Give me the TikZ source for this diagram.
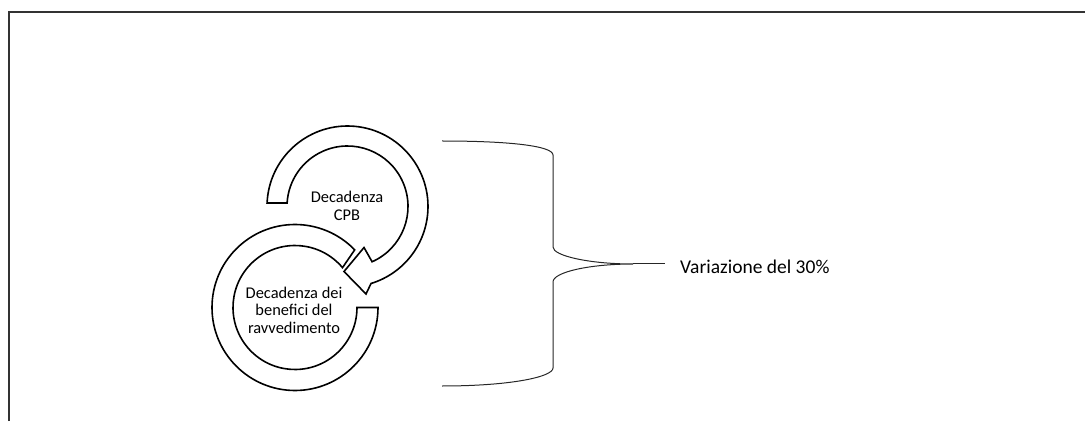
\documentclass[tikz,border=0pt]{standalone}
\usepackage{fontspec}
\setmainfont{Carlito}
\usetikzlibrary{calc}

\tikzset{
  frameline/.style={line width=1.6pt, black!80},
  ringshape/.style={draw=black, fill=white, line width=1.6pt, line join=miter},
  bracket/.style={draw=black!85, line width=1pt},
  ringtext/.style={align=center, inner sep=0pt, font=\fontsize{16.4}{17.6}\selectfont},
  sidetext/.style={inner sep=0pt, font=\fontsize{19.5}{22}\selectfont}
}

\begin{document}
\begin{tikzpicture}[x=1pt, y=1pt]
  \useasboundingbox (0,0) rectangle (1085,421);

  % open frame running off the right and bottom edges
  \coordinate (fbl) at (9,0);
  \coordinate (ftl) at (9,409);
  \coordinate (ftr) at (1085,409);
  \draw[frameline] (fbl) -- (ftl) -- (ftr);

  % centres of the two interlocking circular arrows
  \coordinate (U) at (347.5,214.5);
  \coordinate (L) at (295,113.5);

  % lower ring (tail on the right, open end next to the upper arrowhead)
  \draw[ringshape] ($(L)+(0:83)$) arc[start angle=0, end angle=-316, radius=83]
     -- ($(L)+(-320:62)$) arc[start angle=-320, end angle=0, radius=62] -- cycle;

  % upper ring with its arrowhead
  \coordinate (lb) at (366,127);
  \coordinate (tip) at (344,149.5);
  \coordinate (ub) at (364,173.5);
  \draw[ringshape] ($(U)+(177.5:80.5)$) arc[start angle=177.5, end angle=-73, radius=80.5]
     -- (lb) -- (tip) -- (ub)
     -- ($(U)+(-66:60.5)$) arc[start angle=-66, end angle=176.7, radius=60.5] -- cycle;

  \node[ringtext] (cpb) at (347,215) {Decadenza\\CPB};
  \node[ringtext] (ravv) at (294,111) {Decadenza dei\\benefici del\\ravvedimento};

  % right-hand brace
  \coordinate (btop) at (442,280);
  \coordinate (bbot) at (442,35);
  \coordinate (btip) at (633,157);
  \draw[bracket] (btop) .. controls (510,280) and (553,275) .. (553,266)
     -- (553,174) .. controls (553,165) and (590,157) .. (btip)
     .. controls (590,157) and (553,149) .. (553,139)
     -- (553,53) .. controls (553,44) and (510,35) .. (bbot);

  \node[sidetext, anchor=base west] (var) at (680,148) {Variazione del 30\%};
  \draw[bracket] (btip) -- ([xshift=-15pt]var.west |- btip);
\end{tikzpicture}
\end{document}
